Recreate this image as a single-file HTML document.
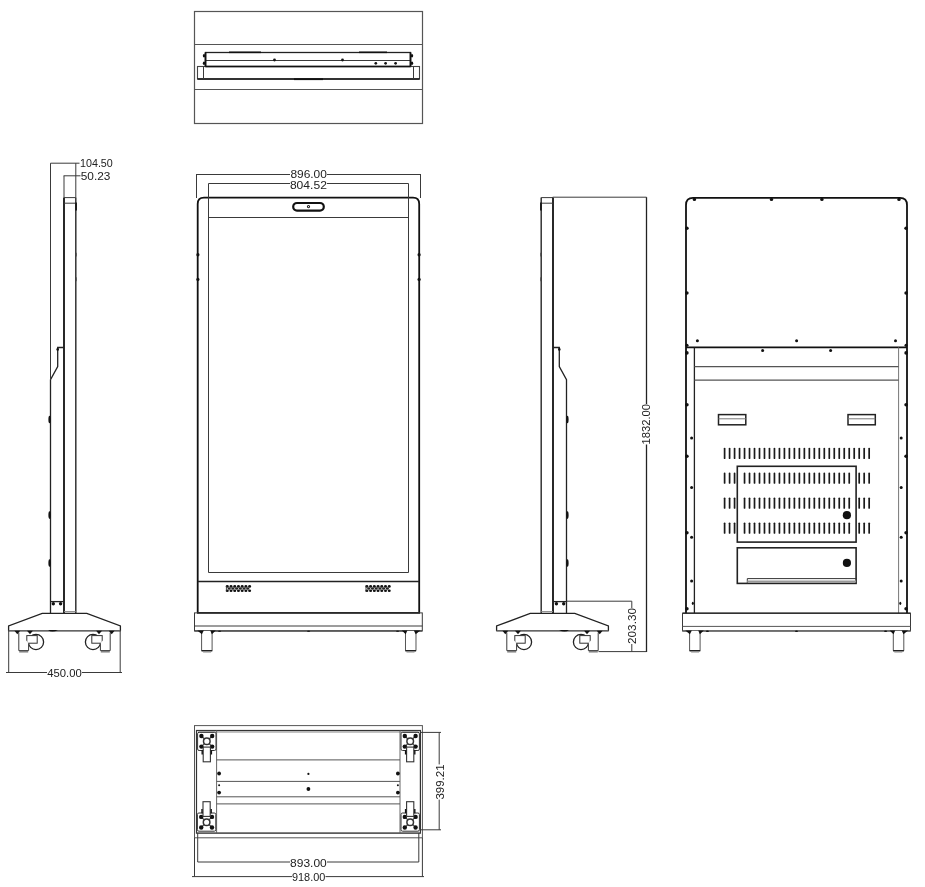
<!DOCTYPE html>
<html><head><meta charset="utf-8">
<style>
html,body{margin:0;padding:0;background:#fff;width:925px;height:887px;overflow:hidden}
svg{display:block;will-change:transform}
.t{stroke:#3a3a3a;stroke-width:1;fill:none}
.k{stroke:#111;stroke-width:1.8;fill:none}
.m{stroke:#222;stroke-width:1.3;fill:none}
.d{fill:#111;stroke:none}
.v{stroke:#1a1a1a;stroke-width:1.7;stroke-linecap:round}
text{font-family:"Liberation Sans",sans-serif;font-size:11px;fill:#222}
</style></head><body>
<svg width="925" height="887" viewBox="0 0 925 887">
<rect width="925" height="887" fill="#fff"/>
<defs><g id="foot">
<path d="M0.3,631 V650.6 H10.8 V631" style="fill:#fff;stroke:#555;stroke-width:1"/>
<line x1="0.2" y1="650.8" x2="11" y2="650.8" style="stroke:#111;stroke-width:1.2"/>
<path d="M1.2,651.6 L2,652.6 H9.6 L10.3,651.6 Z" style="fill:#888"/>
<path d="M-4,630.6 H2.5 L0.6,634.3 Z" class="d"/>
<path d="M8.9,630.6 H14.5 L10.6,634.3 Z" class="d"/>
</g></defs>
<!-- TOP VIEW -->
<g id="top">
<rect class="t" x="194.5" y="11.5" width="228" height="112" style="stroke:#555;stroke-width:1.2"/>
<line class="t" x1="194.5" y1="44.5" x2="422.5" y2="44.5" style="stroke:#555;stroke-width:1.2"/>
<line class="t" x1="194.5" y1="89.5" x2="422.5" y2="89.5" style="stroke:#555;stroke-width:1.2"/>
<rect class="m" x="205.5" y="52.5" width="205" height="14"/>
<line class="t" x1="205.5" y1="60.5" x2="410.5" y2="60.5"/>
<rect class="m" x="197.5" y="66.5" width="222" height="12.5" style="stroke:#444;stroke-width:1.1"/>
<line x1="197.5" y1="79" x2="419.5" y2="79" style="stroke:#111;stroke-width:1.5"/>
<line x1="205.5" y1="66.5" x2="410.5" y2="66.5" style="stroke:#111;stroke-width:1.5"/>
<line class="t" x1="203.5" y1="66.5" x2="203.5" y2="79"/>
<line class="t" x1="413.5" y1="66.5" x2="413.5" y2="79"/>

<line x1="229" y1="52.3" x2="261" y2="52.3" style="stroke:#111;stroke-width:1.6"/>
<line x1="359" y1="52.3" x2="387" y2="52.3" style="stroke:#111;stroke-width:1.6"/>
<line x1="294" y1="79.2" x2="323" y2="79.2" style="stroke:#111;stroke-width:1.8"/>
<line x1="205.5" y1="52.5" x2="205.5" y2="66.5" style="stroke:#111;stroke-width:1.8"/>
<line x1="410.5" y1="52.5" x2="410.5" y2="66.5" style="stroke:#111;stroke-width:1.8"/>
<ellipse class="d" cx="204" cy="55.8" rx="1.2" ry="1.7"/>
<ellipse class="d" cx="204" cy="63.3" rx="1.2" ry="1.7"/>
<ellipse class="d" cx="412" cy="55.8" rx="1.2" ry="1.7"/>
<ellipse class="d" cx="412" cy="63.3" rx="1.2" ry="1.7"/>
<circle class="d" cx="274.5" cy="60" r="1.4"/>
<circle class="d" cx="342.5" cy="60" r="1.4"/>
<circle class="d" cx="375.8" cy="63.3" r="1.35"/>
<circle class="d" cx="385.6" cy="63.3" r="1.35"/>
<circle class="d" cx="395.6" cy="63.3" r="1.35"/>
</g>

<defs>
<g id="side">
<line class="k" x1="64" y1="197.6" x2="64" y2="613"/>
<line class="k" x1="75.8" y1="197.6" x2="75.8" y2="613" style="stroke:#333;stroke-width:1.5"/>
<line class="t" x1="64" y1="197.6" x2="75.8" y2="197.6"/>
<line class="t" x1="64" y1="203.2" x2="75.8" y2="203.2"/>
<line class="t" x1="64" y1="611.6" x2="75.8" y2="611.6" style="stroke:#888"/>
<path class="m" d="M64,347.5 H57.7 V366.6 L50.5,379.7 V613"/>
<circle class="d" cx="57.7" cy="349.4" r="1.3"/>
<ellipse class="d" cx="49.5" cy="419.5" rx="1.1" ry="3.8"/>
<ellipse class="d" cx="49.5" cy="515.1" rx="1.1" ry="3.8"/>
<ellipse class="d" cx="49.5" cy="563" rx="1.1" ry="3.8"/>
<ellipse cx="76.4" cy="254.6" rx="0.5" ry="2.2" fill="#555"/>
<ellipse cx="76.4" cy="279.3" rx="0.5" ry="2.2" fill="#555"/>
<line x1="76.1" y1="202.4" x2="76.1" y2="210.4" style="stroke:#111;stroke-width:1.6"/>
<line class="m" x1="50.5" y1="601.6" x2="64" y2="601.6"/>
<circle class="d" cx="53.3" cy="603.8" r="1.7"/>
<circle class="d" cx="60.6" cy="603.8" r="1.7"/>
<path class="m" d="M42.2,613.4 H86.8 L120.4,626 V630.7 H8.6 V626 Z"/>
<line class="t" x1="8.6" y1="630.7" x2="120.4" y2="630.7" style="stroke-width:1.6;stroke:#666"/>
<path class="d" d="M48,630 Q52,633 58,630 Z"/>
<g id="casterL">
<circle class="m" cx="36" cy="642" r="7.6" style="fill:#fff"/>
<rect class="t" x="26.8" y="635.6" width="10.4" height="7.6" style="fill:#fff;stroke:#333"/>
<path class="t" d="M18.8,632.5 V650.6 H28.6 V643.2" style="fill:#fff"/>
<line class="t" x1="19.2" y1="651.8" x2="28.2" y2="651.8" style="stroke:#777;stroke-width:1.4"/>
<path class="d" d="M14.4,630.8 L20.2,630.8 L17.3,634.2 Z"/>
<path class="d" d="M27,630.8 L32.9,630.8 L30,634.2 Z"/>
</g>
<use href="#casterL" transform="translate(129,0) scale(-1,1)"/>
</g>
</defs>
<!-- SIDE VIEW 1 -->
<use href="#side"/>
<line class="t" x1="50.5" y1="163.2" x2="50.5" y2="380"/>
<line class="t" x1="50.5" y1="163.2" x2="79.5" y2="163.2"/>
<line class="t" x1="75.8" y1="163.2" x2="75.8" y2="197.6"/>
<line class="t" x1="63.6" y1="175.8" x2="80.5" y2="175.8"/>
<line class="t" x1="64" y1="175.8" x2="64" y2="197.6"/>
<text x="80" y="167.4" textLength="32.8" lengthAdjust="spacingAndGlyphs">104.50</text>
<text x="80.8" y="180.2" textLength="29.6" lengthAdjust="spacingAndGlyphs">50.23</text>
<line class="t" x1="8.7" y1="630.7" x2="8.7" y2="672.5"/>
<line class="t" x1="120.2" y1="630.7" x2="120.2" y2="672.5"/>
<line class="t" x1="6" y1="672.5" x2="47" y2="672.5"/>
<line class="t" x1="82" y1="672.5" x2="122" y2="672.5"/>
<text x="47.2" y="676.8" textLength="34.5" lengthAdjust="spacingAndGlyphs">450.00</text>
<!-- SIDE VIEW 3 -->
<use href="#side" transform="translate(617,0) scale(-1,1)"/>
<line class="t" x1="552.7" y1="197.2" x2="646.5" y2="197.2"/>
<line class="m" x1="646.5" y1="197.2" x2="646.5" y2="404"/>
<line class="m" x1="646.5" y1="444.5" x2="646.5" y2="652"/>
<text transform="translate(649.9,444.5) rotate(-90)" textLength="40.6" lengthAdjust="spacingAndGlyphs">1832.00</text>
<line class="t" x1="566.5" y1="601.2" x2="631.8" y2="601.2"/>
<line class="t" x1="598.5" y1="651.6" x2="646.5" y2="651.6"/>
<line class="t" x1="631.8" y1="601.2" x2="631.8" y2="608"/>
<line class="t" x1="631.8" y1="644" x2="631.8" y2="651.6"/>
<text transform="translate(635.9,644) rotate(-90)" textLength="36" lengthAdjust="spacingAndGlyphs">203.30</text>
<!-- FRONT VIEW -->
<g id="front">
<line class="t" x1="197" y1="174.5" x2="290" y2="174.5"/>
<line class="t" x1="327" y1="174.5" x2="420" y2="174.5"/>
<line class="t" x1="196.5" y1="174" x2="196.5" y2="198"/>
<line class="t" x1="420.5" y1="174" x2="420.5" y2="198"/>
<line class="t" x1="208.5" y1="183.5" x2="290" y2="183.5"/>
<line class="t" x1="327" y1="183.5" x2="408.5" y2="183.5"/>
<text x="290.4" y="178.3" textLength="36.5" lengthAdjust="spacingAndGlyphs">896.00</text>
<text x="289.9" y="188.5" textLength="37" lengthAdjust="spacingAndGlyphs">804.52</text>
<path class="k" d="M197.7,612.9 V204 Q197.7,197.7 204,197.7 H413 Q419.2,197.7 419.2,204 V612.9"/>
<path class="t" d="M208.5,183.5 V572.5 H408.5 V183.5"/>
<line class="t" x1="208.5" y1="217.5" x2="408.5" y2="217.5"/>
<line class="m" x1="197.7" y1="581.5" x2="419.2" y2="581.5"/>
<rect x="293.2" y="203" width="30.6" height="7.6" rx="3.8" style="fill:none;stroke:#111;stroke-width:2.2"/>
<circle cx="308.5" cy="206.6" r="1.1" style="fill:none;stroke:#222;stroke-width:1.1"/>
<line class="k" x1="197" y1="612.9" x2="420" y2="612.9"/>
<line class="t" x1="194.5" y1="630.9" x2="422.3" y2="630.9" style="stroke:#666;stroke-width:1.5"/>
<ellipse class="d" cx="219.6" cy="631.3" rx="1.6" ry="0.8"/>
<ellipse class="d" cx="308.6" cy="631.3" rx="1.6" ry="0.8"/>
<ellipse class="d" cx="397.6" cy="631.3" rx="1.6" ry="0.8"/>
<g id="spk">
<ellipse cx="227.30" cy="586.4" rx="1.5" ry="1.3" fill="#111"/>
<ellipse cx="227.30" cy="590.7" rx="1.5" ry="1.3" fill="#111"/>
<ellipse cx="231.02" cy="586.4" rx="1.5" ry="1.3" fill="#111"/>
<ellipse cx="231.02" cy="590.7" rx="1.5" ry="1.3" fill="#111"/>
<ellipse cx="234.74" cy="586.4" rx="1.5" ry="1.3" fill="#111"/>
<ellipse cx="234.74" cy="590.7" rx="1.5" ry="1.3" fill="#111"/>
<ellipse cx="238.46" cy="586.4" rx="1.5" ry="1.3" fill="#111"/>
<ellipse cx="238.46" cy="590.7" rx="1.5" ry="1.3" fill="#111"/>
<ellipse cx="242.18" cy="586.4" rx="1.5" ry="1.3" fill="#111"/>
<ellipse cx="242.18" cy="590.7" rx="1.5" ry="1.3" fill="#111"/>
<ellipse cx="245.90" cy="586.4" rx="1.5" ry="1.3" fill="#111"/>
<ellipse cx="245.90" cy="590.7" rx="1.5" ry="1.3" fill="#111"/>
<ellipse cx="249.62" cy="586.4" rx="1.5" ry="1.3" fill="#111"/>
<ellipse cx="249.62" cy="590.7" rx="1.5" ry="1.3" fill="#111"/>
<ellipse cx="229.16" cy="588.55" rx="1.5" ry="1.2" fill="#222"/>
<ellipse cx="232.88" cy="588.55" rx="1.5" ry="1.2" fill="#222"/>
<ellipse cx="236.60" cy="588.55" rx="1.5" ry="1.2" fill="#222"/>
<ellipse cx="240.32" cy="588.55" rx="1.5" ry="1.2" fill="#222"/>
<ellipse cx="244.04" cy="588.55" rx="1.5" ry="1.2" fill="#222"/>
<ellipse cx="247.76" cy="588.55" rx="1.5" ry="1.2" fill="#222"/>
<line x1="226.4" y1="585.5" x2="226.4" y2="591.6" style="stroke:#333;stroke-width:0.9"/>
</g>
<use href="#spk" transform="translate(139.6,0)"/>
<ellipse class="d" cx="197.9" cy="254.7" rx="1.6" ry="1.7"/>
<ellipse class="d" cx="419.1" cy="254.7" rx="1.6" ry="1.7"/>
<ellipse class="d" cx="197.9" cy="279.4" rx="1.6" ry="1.7"/>
<ellipse class="d" cx="419.1" cy="279.4" rx="1.6" ry="1.7"/>

<rect class="t" x="194.5" y="612.9" width="227.8" height="18"/>
<line class="t" x1="194.5" y1="626" x2="422.3" y2="626"/>
<use href="#foot" transform="translate(201.3,0)"/>
<use href="#foot" transform="translate(416.3,0) scale(-1,1)"/>
</g>
<!-- BACK VIEW -->
<path class="k" d="M686,613 V205 Q686,197.9 693,197.9 H900 Q907,197.9 907,205 V613"/>
<circle class="d" cx="694.4" cy="199.4" r="1.7"/>
<circle class="d" cx="771.5" cy="199.4" r="1.7"/>
<circle class="d" cx="821.9" cy="199.4" r="1.7"/>
<circle class="d" cx="899" cy="199.4" r="1.7"/>
<circle class="d" cx="686.9" cy="228.3" r="1.8"/>
<circle class="d" cx="906.1" cy="228.3" r="1.8"/>
<circle class="d" cx="686.9" cy="293" r="1.8"/>
<circle class="d" cx="906.1" cy="293" r="1.8"/>
<circle class="d" cx="686.9" cy="352.9" r="1.8"/>
<circle class="d" cx="906.1" cy="352.9" r="1.8"/>
<circle class="d" cx="686.9" cy="404.7" r="1.8"/>
<circle class="d" cx="906.1" cy="404.7" r="1.8"/>
<circle class="d" cx="686.9" cy="456.3" r="1.8"/>
<circle class="d" cx="906.1" cy="456.3" r="1.8"/>
<circle class="d" cx="686.9" cy="532.8" r="1.8"/>
<circle class="d" cx="906.1" cy="532.8" r="1.8"/>
<circle class="d" cx="686.9" cy="608.7" r="1.8"/>
<circle class="d" cx="906.1" cy="608.7" r="1.8"/>
<circle class="d" cx="697.4" cy="340.7" r="1.5"/>
<circle class="d" cx="796.6" cy="340.7" r="1.5"/>
<circle class="d" cx="895.5" cy="340.7" r="1.5"/>
<line class="k" x1="686" y1="347.4" x2="907" y2="347.4"/>
<circle class="d" cx="687" cy="345.2" r="1.5"/>
<circle class="d" cx="906" cy="345.2" r="1.5"/>
<circle class="d" cx="762.6" cy="350.5" r="1.5"/>
<circle class="d" cx="830.6" cy="350.5" r="1.5"/>
<line class="m" x1="694.4" y1="347.4" x2="694.4" y2="613"/>
<line class="t" x1="898.6" y1="347.4" x2="898.6" y2="613" style="stroke:#777"/>
<line class="t" x1="694.4" y1="366.6" x2="898.6" y2="366.6" style="stroke:#555;stroke-width:1.3"/>
<line class="t" x1="694.4" y1="380.1" x2="898.6" y2="380.1" style="stroke:#555;stroke-width:1.3"/>
<circle class="d" cx="691.6" cy="438" r="1.5"/>
<circle class="d" cx="901.2" cy="438" r="1.5"/>
<circle class="d" cx="691.6" cy="487.6" r="1.5"/>
<circle class="d" cx="901.2" cy="487.6" r="1.5"/>
<circle class="d" cx="691.6" cy="537.3" r="1.5"/>
<circle class="d" cx="901.2" cy="537.3" r="1.5"/>
<circle class="d" cx="691.6" cy="580.9" r="1.5"/>
<circle class="d" cx="901.2" cy="580.9" r="1.5"/>
<ellipse class="d" cx="692.8" cy="603.3" rx="1" ry="1.6"/>
<ellipse class="d" cx="900.3" cy="603.3" rx="1" ry="1.6"/>
<rect class="m" x="718.5" y="414.6" width="27.3" height="10.2" style="stroke-width:1.5"/>
<line class="t" x1="718.5" y1="418.8" x2="745.8" y2="418.8" style="stroke:#777"/>
<rect class="m" x="848" y="414.6" width="27.3" height="10.2" style="stroke-width:1.5"/>
<line class="t" x1="848" y1="418.8" x2="875.3" y2="418.8" style="stroke:#777"/>
<line x1="724.60" y1="448.59999999999997" x2="724.60" y2="458.2" class="v"/>
<line x1="729.59" y1="448.59999999999997" x2="729.59" y2="458.2" class="v"/>
<line x1="734.57" y1="448.59999999999997" x2="734.57" y2="458.2" class="v"/>
<line x1="739.56" y1="448.59999999999997" x2="739.56" y2="458.2" class="v"/>
<line x1="744.54" y1="448.59999999999997" x2="744.54" y2="458.2" class="v"/>
<line x1="749.52" y1="448.59999999999997" x2="749.52" y2="458.2" class="v"/>
<line x1="754.51" y1="448.59999999999997" x2="754.51" y2="458.2" class="v"/>
<line x1="759.50" y1="448.59999999999997" x2="759.50" y2="458.2" class="v"/>
<line x1="764.48" y1="448.59999999999997" x2="764.48" y2="458.2" class="v"/>
<line x1="769.47" y1="448.59999999999997" x2="769.47" y2="458.2" class="v"/>
<line x1="774.45" y1="448.59999999999997" x2="774.45" y2="458.2" class="v"/>
<line x1="779.44" y1="448.59999999999997" x2="779.44" y2="458.2" class="v"/>
<line x1="784.42" y1="448.59999999999997" x2="784.42" y2="458.2" class="v"/>
<line x1="789.40" y1="448.59999999999997" x2="789.40" y2="458.2" class="v"/>
<line x1="794.39" y1="448.59999999999997" x2="794.39" y2="458.2" class="v"/>
<line x1="799.38" y1="448.59999999999997" x2="799.38" y2="458.2" class="v"/>
<line x1="804.36" y1="448.59999999999997" x2="804.36" y2="458.2" class="v"/>
<line x1="809.35" y1="448.59999999999997" x2="809.35" y2="458.2" class="v"/>
<line x1="814.33" y1="448.59999999999997" x2="814.33" y2="458.2" class="v"/>
<line x1="819.32" y1="448.59999999999997" x2="819.32" y2="458.2" class="v"/>
<line x1="824.30" y1="448.59999999999997" x2="824.30" y2="458.2" class="v"/>
<line x1="829.29" y1="448.59999999999997" x2="829.29" y2="458.2" class="v"/>
<line x1="834.27" y1="448.59999999999997" x2="834.27" y2="458.2" class="v"/>
<line x1="839.25" y1="448.59999999999997" x2="839.25" y2="458.2" class="v"/>
<line x1="844.24" y1="448.59999999999997" x2="844.24" y2="458.2" class="v"/>
<line x1="849.23" y1="448.59999999999997" x2="849.23" y2="458.2" class="v"/>
<line x1="854.21" y1="448.59999999999997" x2="854.21" y2="458.2" class="v"/>
<line x1="859.20" y1="448.59999999999997" x2="859.20" y2="458.2" class="v"/>
<line x1="864.18" y1="448.59999999999997" x2="864.18" y2="458.2" class="v"/>
<line x1="869.16" y1="448.59999999999997" x2="869.16" y2="458.2" class="v"/>
<line x1="724.60" y1="473.4" x2="724.60" y2="483.0" class="v"/>
<line x1="729.59" y1="473.4" x2="729.59" y2="483.0" class="v"/>
<line x1="734.57" y1="473.4" x2="734.57" y2="483.0" class="v"/>
<line x1="744.54" y1="473.4" x2="744.54" y2="483.0" class="v"/>
<line x1="749.52" y1="473.4" x2="749.52" y2="483.0" class="v"/>
<line x1="754.51" y1="473.4" x2="754.51" y2="483.0" class="v"/>
<line x1="759.50" y1="473.4" x2="759.50" y2="483.0" class="v"/>
<line x1="764.48" y1="473.4" x2="764.48" y2="483.0" class="v"/>
<line x1="769.47" y1="473.4" x2="769.47" y2="483.0" class="v"/>
<line x1="774.45" y1="473.4" x2="774.45" y2="483.0" class="v"/>
<line x1="779.44" y1="473.4" x2="779.44" y2="483.0" class="v"/>
<line x1="784.42" y1="473.4" x2="784.42" y2="483.0" class="v"/>
<line x1="789.40" y1="473.4" x2="789.40" y2="483.0" class="v"/>
<line x1="794.39" y1="473.4" x2="794.39" y2="483.0" class="v"/>
<line x1="799.38" y1="473.4" x2="799.38" y2="483.0" class="v"/>
<line x1="804.36" y1="473.4" x2="804.36" y2="483.0" class="v"/>
<line x1="809.35" y1="473.4" x2="809.35" y2="483.0" class="v"/>
<line x1="814.33" y1="473.4" x2="814.33" y2="483.0" class="v"/>
<line x1="819.32" y1="473.4" x2="819.32" y2="483.0" class="v"/>
<line x1="824.30" y1="473.4" x2="824.30" y2="483.0" class="v"/>
<line x1="829.29" y1="473.4" x2="829.29" y2="483.0" class="v"/>
<line x1="834.27" y1="473.4" x2="834.27" y2="483.0" class="v"/>
<line x1="839.25" y1="473.4" x2="839.25" y2="483.0" class="v"/>
<line x1="844.24" y1="473.4" x2="844.24" y2="483.0" class="v"/>
<line x1="849.23" y1="473.4" x2="849.23" y2="483.0" class="v"/>
<line x1="859.20" y1="473.4" x2="859.20" y2="483.0" class="v"/>
<line x1="864.18" y1="473.4" x2="864.18" y2="483.0" class="v"/>
<line x1="869.16" y1="473.4" x2="869.16" y2="483.0" class="v"/>
<line x1="724.60" y1="498.3" x2="724.60" y2="507.90000000000003" class="v"/>
<line x1="729.59" y1="498.3" x2="729.59" y2="507.90000000000003" class="v"/>
<line x1="734.57" y1="498.3" x2="734.57" y2="507.90000000000003" class="v"/>
<line x1="744.54" y1="498.3" x2="744.54" y2="507.90000000000003" class="v"/>
<line x1="749.52" y1="498.3" x2="749.52" y2="507.90000000000003" class="v"/>
<line x1="754.51" y1="498.3" x2="754.51" y2="507.90000000000003" class="v"/>
<line x1="759.50" y1="498.3" x2="759.50" y2="507.90000000000003" class="v"/>
<line x1="764.48" y1="498.3" x2="764.48" y2="507.90000000000003" class="v"/>
<line x1="769.47" y1="498.3" x2="769.47" y2="507.90000000000003" class="v"/>
<line x1="774.45" y1="498.3" x2="774.45" y2="507.90000000000003" class="v"/>
<line x1="779.44" y1="498.3" x2="779.44" y2="507.90000000000003" class="v"/>
<line x1="784.42" y1="498.3" x2="784.42" y2="507.90000000000003" class="v"/>
<line x1="789.40" y1="498.3" x2="789.40" y2="507.90000000000003" class="v"/>
<line x1="794.39" y1="498.3" x2="794.39" y2="507.90000000000003" class="v"/>
<line x1="799.38" y1="498.3" x2="799.38" y2="507.90000000000003" class="v"/>
<line x1="804.36" y1="498.3" x2="804.36" y2="507.90000000000003" class="v"/>
<line x1="809.35" y1="498.3" x2="809.35" y2="507.90000000000003" class="v"/>
<line x1="814.33" y1="498.3" x2="814.33" y2="507.90000000000003" class="v"/>
<line x1="819.32" y1="498.3" x2="819.32" y2="507.90000000000003" class="v"/>
<line x1="824.30" y1="498.3" x2="824.30" y2="507.90000000000003" class="v"/>
<line x1="829.29" y1="498.3" x2="829.29" y2="507.90000000000003" class="v"/>
<line x1="834.27" y1="498.3" x2="834.27" y2="507.90000000000003" class="v"/>
<line x1="839.25" y1="498.3" x2="839.25" y2="507.90000000000003" class="v"/>
<line x1="844.24" y1="498.3" x2="844.24" y2="507.90000000000003" class="v"/>
<line x1="849.23" y1="498.3" x2="849.23" y2="507.90000000000003" class="v"/>
<line x1="859.20" y1="498.3" x2="859.20" y2="507.90000000000003" class="v"/>
<line x1="864.18" y1="498.3" x2="864.18" y2="507.90000000000003" class="v"/>
<line x1="869.16" y1="498.3" x2="869.16" y2="507.90000000000003" class="v"/>
<line x1="724.60" y1="523.3000000000001" x2="724.60" y2="532.9" class="v"/>
<line x1="729.59" y1="523.3000000000001" x2="729.59" y2="532.9" class="v"/>
<line x1="734.57" y1="523.3000000000001" x2="734.57" y2="532.9" class="v"/>
<line x1="744.54" y1="523.3000000000001" x2="744.54" y2="532.9" class="v"/>
<line x1="749.52" y1="523.3000000000001" x2="749.52" y2="532.9" class="v"/>
<line x1="754.51" y1="523.3000000000001" x2="754.51" y2="532.9" class="v"/>
<line x1="759.50" y1="523.3000000000001" x2="759.50" y2="532.9" class="v"/>
<line x1="764.48" y1="523.3000000000001" x2="764.48" y2="532.9" class="v"/>
<line x1="769.47" y1="523.3000000000001" x2="769.47" y2="532.9" class="v"/>
<line x1="774.45" y1="523.3000000000001" x2="774.45" y2="532.9" class="v"/>
<line x1="779.44" y1="523.3000000000001" x2="779.44" y2="532.9" class="v"/>
<line x1="784.42" y1="523.3000000000001" x2="784.42" y2="532.9" class="v"/>
<line x1="789.40" y1="523.3000000000001" x2="789.40" y2="532.9" class="v"/>
<line x1="794.39" y1="523.3000000000001" x2="794.39" y2="532.9" class="v"/>
<line x1="799.38" y1="523.3000000000001" x2="799.38" y2="532.9" class="v"/>
<line x1="804.36" y1="523.3000000000001" x2="804.36" y2="532.9" class="v"/>
<line x1="809.35" y1="523.3000000000001" x2="809.35" y2="532.9" class="v"/>
<line x1="814.33" y1="523.3000000000001" x2="814.33" y2="532.9" class="v"/>
<line x1="819.32" y1="523.3000000000001" x2="819.32" y2="532.9" class="v"/>
<line x1="824.30" y1="523.3000000000001" x2="824.30" y2="532.9" class="v"/>
<line x1="829.29" y1="523.3000000000001" x2="829.29" y2="532.9" class="v"/>
<line x1="834.27" y1="523.3000000000001" x2="834.27" y2="532.9" class="v"/>
<line x1="839.25" y1="523.3000000000001" x2="839.25" y2="532.9" class="v"/>
<line x1="844.24" y1="523.3000000000001" x2="844.24" y2="532.9" class="v"/>
<line x1="849.23" y1="523.3000000000001" x2="849.23" y2="532.9" class="v"/>
<line x1="859.20" y1="523.3000000000001" x2="859.20" y2="532.9" class="v"/>
<line x1="864.18" y1="523.3000000000001" x2="864.18" y2="532.9" class="v"/>
<line x1="869.16" y1="523.3000000000001" x2="869.16" y2="532.9" class="v"/>
<rect class="m" x="737.3" y="466.3" width="118.8" height="75.8" style="fill:none;stroke-width:1.6"/>
<circle class="d" cx="846.9" cy="515.2" r="4.1"/>
<rect class="m" x="737.3" y="547.8" width="118.8" height="35.6" style="stroke-width:1.6"/>
<circle class="d" cx="846.9" cy="562.9" r="4.1"/>
<path class="t" d="M747.3,583.4 V578.6 H856.1" style="stroke:#333"/>
<line class="t" x1="747.3" y1="581.6" x2="856.1" y2="581.6" style="stroke:#999;stroke-width:2"/>
<line class="k" x1="682.5" y1="613.3" x2="910.5" y2="613.3" style="stroke-width:1.4"/>
<rect class="t" x="682.5" y="613.3" width="228" height="17.6"/>
<line class="t" x1="682.5" y1="626.4" x2="910.5" y2="626.4" style="stroke:#555"/>
<line class="t" x1="682.5" y1="630.9" x2="910.5" y2="630.9" style="stroke:#666;stroke-width:1.5"/>
<ellipse class="d" cx="707.4" cy="631.3" rx="1.6" ry="0.8"/>
<ellipse class="d" cx="796.5" cy="631.3" rx="1.6" ry="0.8"/>
<ellipse class="d" cx="885.6" cy="631.3" rx="1.6" ry="0.8"/>
<use href="#foot" transform="translate(689.3,0)"/>
<use href="#foot" transform="translate(904.1,0) scale(-1,1)"/>
<!-- BOTTOM VIEW -->
<rect class="t" x="194.5" y="725.6" width="227.9" height="112.2" style="stroke:#555"/>
<rect class="m" x="196.5" y="730.5" width="223.9" height="102.6" style="stroke:#333;stroke-width:1.2"/>
<line class="t" x1="198" y1="732" x2="419" y2="732" style="stroke:#888"/>
<line class="t" x1="216.6" y1="730.5" x2="216.6" y2="833" style="stroke:#666"/>
<line class="t" x1="400" y1="730.5" x2="400" y2="833" style="stroke:#666"/>
<line class="t" x1="216.6" y1="759.9" x2="400" y2="759.9" style="stroke:#555"/>
<line class="t" x1="216.6" y1="781.4" x2="400" y2="781.4" style="stroke:#555"/>
<line class="t" x1="216.6" y1="796.8" x2="400" y2="796.8" style="stroke:#555"/>
<line class="t" x1="216.6" y1="803.9" x2="400" y2="803.9" style="stroke:#555"/>
<line class="t" x1="196.5" y1="833.2" x2="420.4" y2="833.2" style="stroke:#555"/>
<circle class="d" cx="219.1" cy="773.5" r="1.9"/>
<circle class="d" cx="219.1" cy="785.2" r="1"/>
<circle class="d" cx="219.1" cy="792.6" r="1.9"/>
<circle class="d" cx="397.9" cy="773.5" r="1.9"/>
<circle class="d" cx="397.9" cy="785.2" r="1"/>
<circle class="d" cx="397.9" cy="792.6" r="1.9"/>
<circle class="d" cx="308.4" cy="773.9" r="1.1"/>
<circle class="d" cx="308.4" cy="789" r="1.9"/>
<defs><g id="mount">
<rect x="-9.2" y="-9" width="18.4" height="18.2" rx="1.5" class="t" style="stroke:#333"/>
<path d="M-5.4,-5.3 L5.4,5.3 M5.4,-5.3 L-5.4,5.3" style="stroke:#555;stroke-width:1.3"/>
<circle cx="-5.4" cy="-5.3" r="2.2" class="d"/><circle cx="5.4" cy="-5.3" r="2.2" class="d"/>
<circle cx="-5.4" cy="5.3" r="2.2" class="d"/><circle cx="5.4" cy="5.3" r="2.2" class="d"/>
<circle cx="0" cy="0" r="3.3" style="fill:#fff;stroke:#333;stroke-width:1.5"/>
<rect x="-3.6" y="5.8" width="7.2" height="14.7" style="fill:#fff;stroke:#333;stroke-width:1.1"/>
<line x1="-4.6" y1="9" x2="-4.6" y2="13.2" style="stroke:#111;stroke-width:1.4"/>
<line x1="4.6" y1="9" x2="4.6" y2="13.2" style="stroke:#111;stroke-width:1.4"/>
</g></defs>
<use href="#mount" transform="translate(206.8,741.3)"/>
<use href="#mount" transform="translate(410.2,741.3)"/>
<use href="#mount" transform="translate(206.6,822.2) scale(1,-1)"/>
<use href="#mount" transform="translate(410.2,822.2) scale(1,-1)"/>
<line class="t" x1="197.7" y1="833" x2="197.7" y2="862"/>
<line class="t" x1="418.8" y1="833" x2="418.8" y2="862"/>
<line class="t" x1="194.5" y1="837.8" x2="194.5" y2="876.6"/>
<line class="t" x1="422.4" y1="837.8" x2="422.4" y2="876.6"/>
<line class="t" x1="197.7" y1="862" x2="290" y2="862"/>
<line class="t" x1="327" y1="862" x2="418.8" y2="862"/>
<text x="290.1" y="866.9" textLength="36.7" lengthAdjust="spacingAndGlyphs">893.00</text>
<line class="t" x1="192" y1="876.6" x2="292" y2="876.6"/>
<line class="t" x1="325.5" y1="876.6" x2="424" y2="876.6"/>
<text x="292" y="881.3" textLength="33.3" lengthAdjust="spacingAndGlyphs">918.00</text>
<line class="t" x1="420.8" y1="732.4" x2="441" y2="732.4"/>
<line class="t" x1="420.8" y1="829.8" x2="441" y2="829.8"/>
<line class="t" x1="439.2" y1="732.4" x2="439.2" y2="764.4"/>
<line class="t" x1="439.2" y1="799.6" x2="439.2" y2="829.8"/>
<text transform="translate(444.1,799.6) rotate(-90)" textLength="35.2" lengthAdjust="spacingAndGlyphs">399.21</text>
</svg>
</body></html>
